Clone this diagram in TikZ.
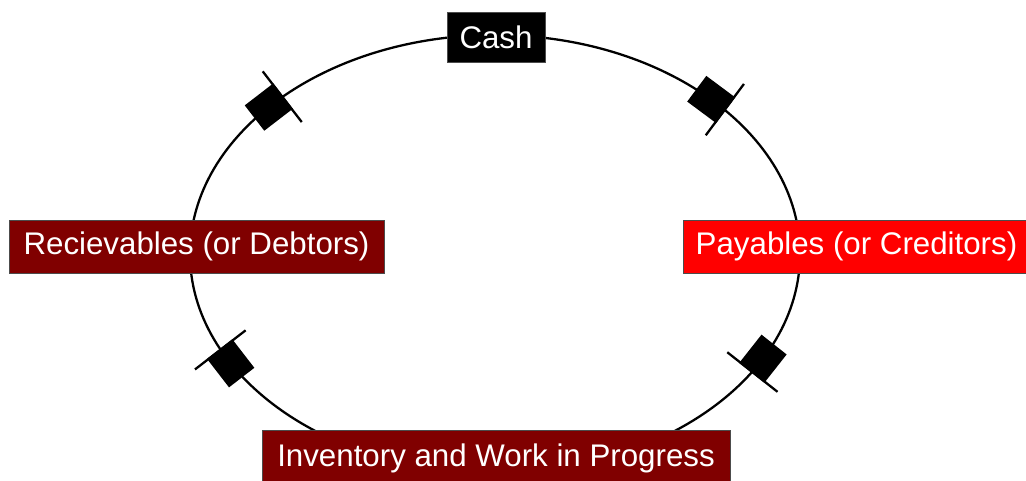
\documentclass[tikz,border=0pt]{standalone}
\usepackage{fontspec}
\setmainfont{Liberation Sans}
\definecolor{darkred}{RGB}{128,0,0}
\definecolor{brightred}{RGB}{255,0,0}

\begin{document}
\begin{tikzpicture}[x=0.02cm,y=0.02cm,
  stage/.style={draw=black!70, text=white, inner sep=0pt, font=\fontsize{17.8}{20}\selectfont},
  flowmark/.style={fill=black}]
\useasboundingbox (0,0) rectangle (1026,480);
% the cycle
\draw[line width=1.3pt] (495,226) ellipse [x radius=305, y radius=219];
\foreach \t in {137,44,-29.5,-151}{
  \begin{scope}[shift={({495+305*cos(\t)},{226+219*sin(\t)})}, rotate={atan2(-219*cos(\t),305*sin(\t))}]
    \fill[flowmark] (-22,-16) rectangle (14,16);
    \draw[line width=1.3pt] (13,-32) -- (13,32);
  \end{scope}
}
% the stages
\node[stage, fill=black, minimum width=1.96cm, minimum height=1cm] (cash) at (496,443) {Cash};
\node[stage, fill=brightred, minimum width=6.94cm, minimum height=1.06cm] (payables) at (856.5,233.5) {Payables (or Creditors)};
\node[stage, fill=darkred, minimum width=9.36cm, minimum height=1.12cm] (inventory) at (496,22) {Inventory and Work in Progress};
\node[stage, fill=darkred, minimum width=7.5cm, minimum height=1.06cm] (receivables) at (196.5,233.5) {Recievables (or Debtors)};
\end{tikzpicture}
\end{document}
